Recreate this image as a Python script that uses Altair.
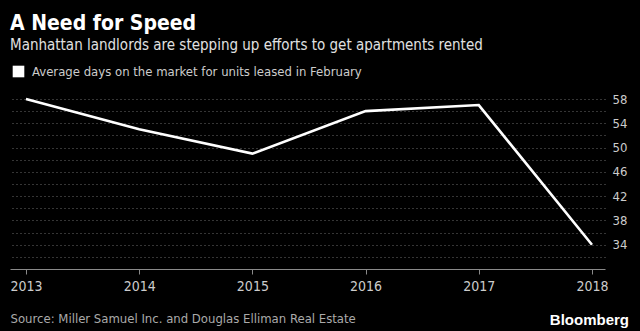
import altair as alt
import pandas as pd

years = [2013, 2014, 2015, 2016, 2017, 2018]
days = [58, 53, 49, 56, 57, 34]
series_name = "Average days on the market for units leased in February"
y_grid_values = [32, 34, 36, 38, 40, 42, 44, 46, 48, 50, 52, 54, 56, 58]

FONT = "DejaVu Sans Condensed"

df = pd.DataFrame({"year": years, "days": days, "series": [series_name] * len(years)})

line = alt.Chart(df).mark_line(strokeWidth=2.6, color="#ffffff").encode(
    x=alt.X(
        "year:Q",
        scale=alt.Scale(domain=[2012.859, 2018.115], nice=False, zero=False),
        axis=alt.Axis(
            values=years, format="d", grid=False,
            domainColor="#8a8a8a", tickColor="#8a8a8a", tickSize=5,
            labelColor="#cccccc", labelFontSize=14, labelPadding=5, labelFont=FONT,
            title="Source: Miller Samuel Inc. and Douglas Elliman Real Estate",
            titleX=0, titleY=53, titleAlign="left", titleBaseline="alphabetic",
            titleColor="#aaaaaa", titleFontSize=13, titleFontWeight="normal", titleFont=FONT,
        ),
    ),
    y=alt.Y(
        "days:Q",
        scale=alt.Scale(domain=[30, 58], nice=False, zero=False),
        axis=alt.Axis(
            orient="right", values=y_grid_values, grid=True, gridColor="#6a6a6a",
            gridDash=[1, 3], gridWidth=1, ticks=False, domain=False,
            labelExpr="datum.value % 4 == 2 ? datum.label : ''",
            labelColor="#cccccc", labelFontSize=13, labelPadding=7, labelFont=FONT,
            title=None,
        ),
    ),
    color=alt.Color(
        "series:N",
        scale=alt.Scale(range=["#ffffff"]),
        legend=alt.Legend(
            orient="none", legendX=2, legendY=-34, title=None,
            symbolType="square", symbolFillColor="#ffffff", symbolStrokeColor="#ffffff",
            symbolStrokeWidth=0, symbolSize=135, labelColor="#cccccc",
            labelFontSize=13, labelFont=FONT, labelOffset=7, labelLimit=600,
        ),
    ),
)

brand = alt.Chart(pd.DataFrame({"t": ["Bloomberg"]})).mark_text(
    align="right", baseline="alphabetic", fontWeight="bold", fontSize=15,
    color="#ffffff", font="Liberation Sans",
).encode(text="t:N", x=alt.value(619), y=alt.value(226))

chart = alt.layer(line, brand).properties(
    width=595, height=170,
    autosize=alt.AutoSizeParams(type="none"),
    padding={"left": 10, "top": 99, "right": 35, "bottom": 62},
    background="#000000",
    title=alt.TitleParams(
        text="A Need for Speed",
        subtitle="Manhattan landlords are stepping up efforts to get apartments rented",
        anchor="start", frame="group", offset=12,
        font=FONT, fontSize=21, fontWeight="bold", color="#ffffff",
        subtitleFont=FONT, subtitleFontSize=15, subtitleColor="#e0e0e0",
        subtitlePadding=4,
    ),
).configure_view(stroke=None)

chart.save("out.html", embed_options={"renderer": "svg", "actions": False})
